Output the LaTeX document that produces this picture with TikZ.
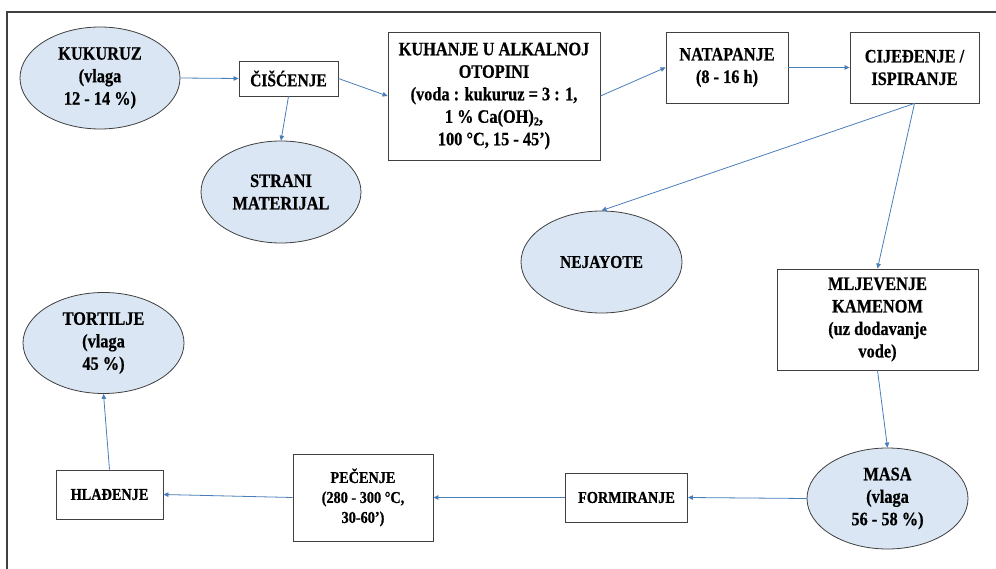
\documentclass[tikz,border=0pt]{standalone}
\usepackage{fontspec}
\newfontfamily\cam{Liberation Serif Bold}[FakeStretch=0.86, FakeBold=0.6]
\usetikzlibrary{shapes.geometric,arrows.meta}
\definecolor{fillblue}{HTML}{DAE6F3}
\definecolor{edgegray}{HTML}{404040}
\definecolor{arrblue}{HTML}{4A7EBB}
\newcommand{\subtwo}{\raisebox{-0.3ex}{\fontsize{12}{12}\selectfont 2}}
\begin{document}
\begin{tikzpicture}[x=1pt,y=-1pt,
  bigtxt/.style={font=\cam\fontsize{19}{22.5}\selectfont, align=center, text=black},
  midtxt/.style={font=\cam\fontsize{18}{22}\selectfont, align=center, text=black},
  smalltxt/.style={font=\cam\fontsize{16.6}{20}\selectfont, align=center, text=black},
  oval/.style={ellipse, draw=edgegray, fill=fillblue, line width=0.8pt, inner sep=0pt},
  stepbox/.style={rectangle, draw=edgegray, fill=white, line width=0.9pt, inner sep=0pt},
  conn/.style={draw=arrblue, line width=0.8pt, -{Triangle[length=5pt,width=4.5pt]}}]
\useasboundingbox (0,0) rectangle (996,569);
\fill[white] (0,0) rectangle (996,569);
\draw[edgegray, line width=1.2pt] (7,569) -- (7,12) -- (996,12);

\node[oval, bigtxt, minimum width=160pt, minimum height=102pt] (kuk) at (100,78) {KUKURUZ\\(vlaga\\12 - 14 \%)};
\node[stepbox, midtxt, minimum width=99pt, minimum height=35pt] (cis) at (288.5,78.5) {ČIŠĆENJE};
\node[oval, bigtxt, minimum width=160pt, minimum height=102pt] (str) at (281,192) {STRANI\\MATERIJAL};
\node[stepbox, bigtxt, minimum width=212pt, minimum height=128pt] (kuh) at (494,96) {KUHANJE U ALKALNOJ\\OTOPINI\\(voda : kukuruz = 3 : 1,\\1 \% Ca(OH)\subtwo,\\100 °C, 15 - 45’)};
\node[stepbox, bigtxt, minimum width=122pt, minimum height=71pt] (nat) at (727,67.5) {NATAPANJE\\(8 - 16 h)};
\node[stepbox, bigtxt, minimum width=129pt, minimum height=71pt] (cij) at (914.5,67.5) {CIJEĐENJE /\\ISPIRANJE};
\node[oval, midtxt, minimum width=161pt, minimum height=102pt] (nej) at (601.5,262) {NEJAYOTE};
\node[stepbox, bigtxt, minimum width=201pt, minimum height=101pt] (mlj) at (877.5,319.5) {MLJEVENJE\\KAMENOM\\(uz dodavanje\\vode)};
\node[oval, bigtxt, minimum width=161pt, minimum height=101pt] (masa) at (887.5,498.5) {MASA\\(vlaga\\56 - 58 \%)};
\node[stepbox, smalltxt, minimum width=122pt, minimum height=49pt] (form) at (626.5,497.5) {FORMIRANJE};
\node[stepbox, smalltxt, minimum width=140pt, minimum height=87pt] (pec) at (363,497.5) {PEČENJE\\(280 - 300 °C,\\30-60’)};
\node[stepbox, smalltxt, minimum width=107pt, minimum height=49pt] (hla) at (109.5,494.5) {HLAĐENJE};
\node[oval, bigtxt, minimum width=161pt, minimum height=101pt] (tort) at (103.5,343) {TORTILJE\\(vlaga\\45 \%)};

\draw[conn] (kuk.east) -- (cis.west);
\draw[conn] (cis.south) -- (str.north);
\draw[conn] (cis.east) -- (kuh.west);
\draw[conn] (kuh.east) -- (nat.west);
\draw[conn] (nat.east) -- (cij.west);
\draw[conn] (cij.south) -- (nej.north);
\draw[conn] (cij.south) -- (mlj.north);
\draw[conn] (mlj.south) -- (masa.north);
\draw[conn] (masa.west) -- (form.east);
\draw[conn] (form.west) -- (pec.east);
\draw[conn] (pec.west) -- (hla.east);
\draw[conn] (hla.north) -- (tort.south);
\end{tikzpicture}
\end{document}
